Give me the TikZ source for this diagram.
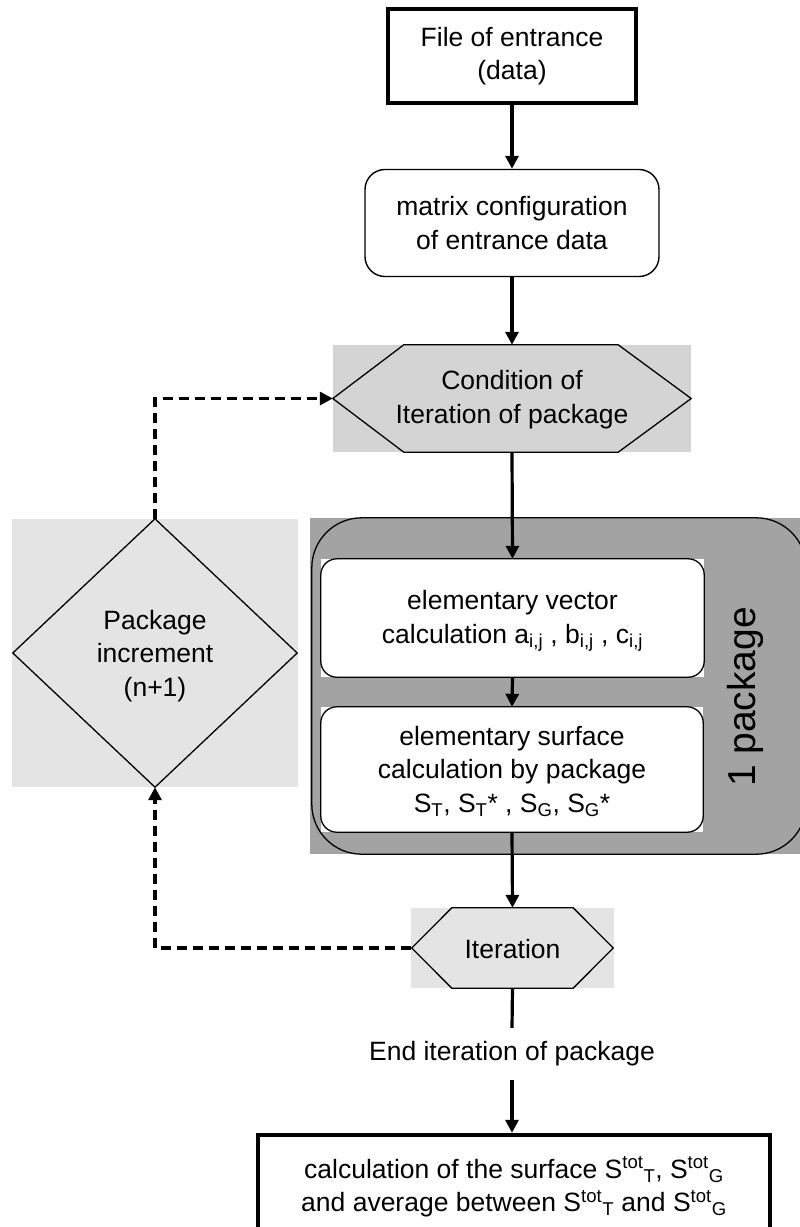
\documentclass[tikz,border=0pt]{standalone}
\usepackage{fontspec}
\setmainfont{Liberation Sans}
\usetikzlibrary{arrows.meta}
\definecolor{condgray}{HTML}{D4D4D4}
\definecolor{lightbg}{HTML}{E4E4E4}
\definecolor{pkggray}{HTML}{A3A3A3}
\newcommand{\sbs}[1]{\textsubscript{#1}}
\newcommand{\sps}[1]{\textsuperscript{#1}}
\tikzset{
  txt/.style={font=\fontsize{26.5}{33.5}\selectfont, align=center, inner sep=0pt},
  thickbox/.style={txt, draw, line width=4.5pt},
  plainbox/.style={txt, fill=white},
  bgrect/.style={txt, rectangle},
  outline/.style={draw=black, line width=1.3pt},
  arr/.style={line width=3.2pt, -{Triangle[length=13pt,width=13pt]}},
  plainline/.style={line width=3.2pt},
  dasharr/.style={line width=3.2pt, dash pattern=on 10pt off 6pt, -{Triangle[length=13pt,width=13pt]}},
}
\begin{document}
\begin{tikzpicture}[x=1pt,y=-1pt]
\useasboundingbox (0,0) rectangle (800,1227);
\clip (0,0) rectangle (800,1227);

% top box
\node[thickbox, minimum width=248pt, minimum height=94pt] (file) at (512,56) {File of entrance\\(data)};
% matrix configuration
\node[txt, draw, line width=1.4pt, rounded corners=20pt, minimum width=294pt, minimum height=107pt] (matrix) at (512,223) {matrix configuration\\of entrance data};

% condition hexagon
\node[bgrect, fill=condgray, minimum width=358pt, minimum height=107pt] (cond) at (512,398.5) {};
\draw[outline] (cond.west) -- ([xshift=71pt]cond.north west) -- ([xshift=-73pt]cond.north east) -- (cond.east) -- ([xshift=-73pt]cond.south east) -- ([xshift=71pt]cond.south west) -- cycle;
\node[txt] (condtxt) at (512,399.5) {Condition of\\Iteration of package};

% package region
\node[bgrect, fill=pkggray, minimum width=490pt, minimum height=336pt] (pkg) at (555,686) {};
\draw[outline] ([xshift=2pt]pkg.north west) [rounded corners=50pt] rectangle ([xshift=6pt]pkg.south east);
\node[txt, rotate=90, font=\fontsize{39}{45}\selectfont] (pkglabel) at (745,697) {1 package};

% box 3
\node[plainbox, minimum width=383pt, minimum height=118pt] (vec) at (512.5,618) {};
\draw[outline] (vec.south west) [rounded corners=16pt] rectangle (vec.north east);
\node[txt] (vectxt) at (512.5,621) {elementary vector\\calculation a\sbs{i,j} , b\sbs{i,j} , c\sbs{i,j}};

% box 4
\node[plainbox, minimum width=382pt, minimum height=125pt] (surf) at (512,769.5) {};
\draw[outline] (surf.south west) [rounded corners=16pt] rectangle (surf.north east);
\node[txt] (surftxt) at (512,771.5) {elementary surface\\calculation by package\\S\sbs{T}, S\sbs{T}* , S\sbs{G}, S\sbs{G}*};

% package increment diamond
\node[bgrect, fill=lightbg, minimum width=286pt, minimum height=268pt] (inc) at (155,653) {};
\draw[outline] (inc.north) -- ([xshift=1pt]inc.west) -- (inc.south) -- ([xshift=-1pt]inc.east) -- cycle;
\node[txt] (inctxt) at (155,656) {Package\\increment\\(n+1)};

% iteration hexagon
\node[bgrect, fill=lightbg, minimum width=203pt, minimum height=80pt] (iter) at (512.5,948) {};
\draw[outline] ([xshift=1pt]iter.west) -- ([xshift=41pt]iter.north west) -- ([xshift=-41pt]iter.north east) -- ([xshift=-1pt]iter.east) -- ([xshift=-41pt]iter.south east) -- ([xshift=41pt]iter.south west) -- cycle;
\node[txt] (itertxt) at (512.5,949) {Iteration};

% end text
\node[txt, minimum height=52pt] (endtxt) at (512,1054) {End iteration of package};

% final box
\node[thickbox, minimum width=512pt, minimum height=104pt] (final) at (514,1187) {calculation of the surface S\sps{tot}\sbs{T}, S\sps{tot}\sbs{G}\\and average between S\sps{tot}\sbs{T} and S\sps{tot}\sbs{G}};

% connectors
\draw[arr] (file.south) -- (matrix.north);
\draw[arr] (matrix.south) -- (cond.north);
\draw[arr] (cond.south) -- (vec.north);
\draw[arr] (vec.south) -- (surf.north);
\draw[arr] (surf.south) -- (iter.north);
\draw[plainline] (iter.south) -- (endtxt.north);
\draw[arr] (endtxt.south) -- (endtxt.south |- final.north);
\draw[dasharr] (inc.north) |- (cond.west);
\draw[dasharr] (iter.west) -| (inc.south);
\end{tikzpicture}
\end{document}
